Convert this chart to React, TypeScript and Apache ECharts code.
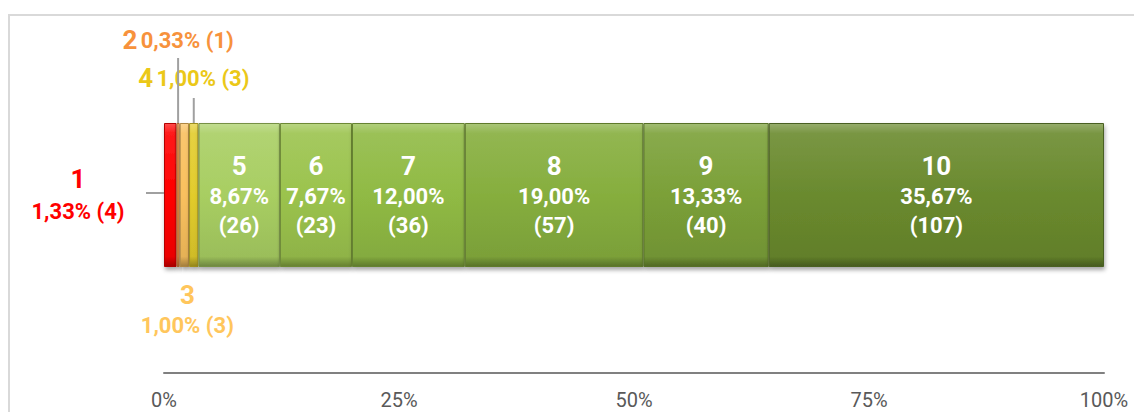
import React, { useEffect, useRef } from 'react';
import * as echarts from 'echarts';

const categories = ['1', '2', '3', '4', '5', '6', '7', '8', '9', '10'];
const counts = [4, 1, 3, 3, 26, 23, 36, 57, 40, 107];
const barColors = ['#FF0000', '#F79646', '#F9C05E', '#E2CC2C', '#A8CE62', '#9BC34D', '#90BA44', '#86AE3E', '#7BA038', '#6A8A2E'];
const outerLabelColors = ['#FF0000', '#F7923C', '#FFC65C', '#EBC818'];
const xTickValues = [0, 25, 50, 75, 100];

const FONT = 'Roboto, "Noto Sans", sans-serif';

function shade(hex: string, amt: number): string {
  const n = parseInt(hex.slice(1), 16);
  let r = (n >> 16) & 255, g = (n >> 8) & 255, b = n & 255;
  const t = amt > 0 ? 255 : 0;
  const a = Math.abs(amt);
  r = Math.round(r + (t - r) * a);
  g = Math.round(g + (t - g) * a);
  b = Math.round(b + (t - b) * a);
  return '#' + [r, g, b].map((v) => v.toString(16).padStart(2, '0')).join('');
}

export default function App() {
  const ref = useRef<HTMLDivElement>(null);
  useEffect(() => {
    if (!ref.current) return;
    const chart = echarts.init(ref.current, undefined, { renderer: 'svg' });
    const total = counts.reduce((a, b) => a + b, 0);
    const pcts = counts.map((c) => (c / total) * 100);
    const pctStr = pcts.map((p) => p.toFixed(2).replace('.', ',') + '%');
    const BAR_W = 144;

    const bigRich = (color: string) => ({
      n: { fontSize: 26, fontWeight: 'bold', color, fontFamily: FONT, lineHeight: 32 },
      p: { fontSize: 22, fontWeight: 'bold', color, fontFamily: FONT, lineHeight: 32 },
    });

    const labelFor = (i: number): any => {
      const cat = categories[i];
      if (i === 0) {
        return {
          show: true, position: 'left', distance: 86, align: 'center',
          formatter: `{n|${cat}}\n{p|${pctStr[i]} (${counts[i]})}`,
          rich: bigRich(outerLabelColors[0]),
        };
      }
      if (i === 1) {
        return {
          show: true, position: 'top', distance: 67,
          formatter: `{n|${cat}} {p|${pctStr[i]} (${counts[i]})}`,
          rich: bigRich(outerLabelColors[1]),
        };
      }
      if (i === 3) {
        return {
          show: true, position: 'top', distance: 29,
          formatter: `{n|${cat}} {p|${pctStr[i]} (${counts[i]})}`,
          rich: bigRich(outerLabelColors[3]),
        };
      }
      if (i === 2) {
        return {
          show: true, position: 'bottom', distance: 13, offset: [3, 0],
          formatter: `{n|${cat}}\n{p|${pctStr[i]} (${counts[i]})}`,
          rich: {
            n: { fontSize: 26, fontWeight: 'bold', color: outerLabelColors[2], fontFamily: FONT, lineHeight: 30 },
            p: { fontSize: 22, fontWeight: 'bold', color: outerLabelColors[2], fontFamily: FONT, lineHeight: 30 },
          },
        };
      }
      return {
        show: true, position: 'inside',
        formatter: `{n|${cat}}\n{p|${pctStr[i]}}\n{p|(${counts[i]})}`,
        rich: {
          n: { fontSize: 26, fontWeight: 'bold', color: '#FFFFFF', fontFamily: FONT, lineHeight: 32 },
          p: { fontSize: 22, fontWeight: 'bold', color: '#FFFFFF', fontFamily: FONT, lineHeight: 29 },
        },
      };
    };

    const series = categories.map((cat, i) => {
      const c = barColors[i];
      return {
        name: cat,
        type: 'bar',
        stack: 'total',
        barWidth: BAR_W,
        data: [pcts[i]],
        itemStyle: {
          color: new echarts.graphic.LinearGradient(0, 0, 0, 1, [
            { offset: 0, color: shade(c, 0.3) },
            { offset: 0.07, color: shade(c, 0.1) },
            { offset: 0.5, color: c },
            { offset: 0.93, color: shade(c, -0.08) },
            { offset: 1, color: shade(c, -0.35) },
          ]),
          borderColor: shade(c, -0.3),
          borderWidth: 1,
          shadowColor: 'rgba(0,0,0,0.35)',
          shadowBlur: 4,
          shadowOffsetY: 3,
          shadowOffsetX: 1,
        },
        label: labelFor(i),
        emphasis: { disabled: true },
      };
    });

    chart.setOption({
      animation: false,
      grid: { left: 164, right: 30, top: 17, bottom: 39, containLabel: false },
      xAxis: {
        type: 'value',
        min: xTickValues[0],
        max: xTickValues[xTickValues.length - 1],
        interval: xTickValues[1] - xTickValues[0],
        axisLine: { show: true, lineStyle: { color: '#808080', width: 2 } },
        axisTick: { show: false },
        splitLine: { show: false },
        axisLabel: {
          formatter: '{value}%', color: '#595959', fontSize: 20, fontFamily: FONT, margin: 17,
        },
      },
      yAxis: {
        type: 'category',
        data: [''],
        axisLine: { show: false },
        axisTick: { show: false },
        axisLabel: { show: false },
      },
      series,
    });

    // leader lines computed through the axes
    const cum: number[] = [];
    pcts.reduce((acc, p, i) => { cum[i] = acc; return acc + p; }, 0);
    const yC = chart.convertToPixel({ yAxisIndex: 0 }, 0) as number;
    const yTop = yC - BAR_W / 2;
    const x0 = chart.convertToPixel({ xAxisIndex: 0 }, 0) as number;
    const x2 = chart.convertToPixel({ xAxisIndex: 0 }, cum[1] + pcts[1] / 2) as number;
    const x4 = chart.convertToPixel({ xAxisIndex: 0 }, cum[3] + pcts[3] / 2) as number;
    const lineStyle = { stroke: '#A0A0A0', lineWidth: 2 };
    chart.setOption({
      graphic: [
        { type: 'rect', z: -10, silent: true, shape: { x: 9, y: 15, width: 1400, height: 600 }, style: { fill: 'none', stroke: '#D9D9D9', lineWidth: 2 } },
        { type: 'line', z: 100, silent: true, shape: { x1: x0 - 18, y1: yC - 2, x2: x0, y2: yC - 2 }, style: lineStyle },
        { type: 'line', z: 100, silent: true, shape: { x1: x2, y1: yTop - 65, x2: x2, y2: yTop }, style: lineStyle },
        { type: 'line', z: 100, silent: true, shape: { x1: x4, y1: yTop - 25, x2: x4, y2: yTop }, style: lineStyle },
      ],
    });

    return () => chart.dispose();
  }, []);
  return <div ref={ref} style={{ position: 'absolute', left: 0, top: 0, width: 1134, height: 412 }} />;
}
